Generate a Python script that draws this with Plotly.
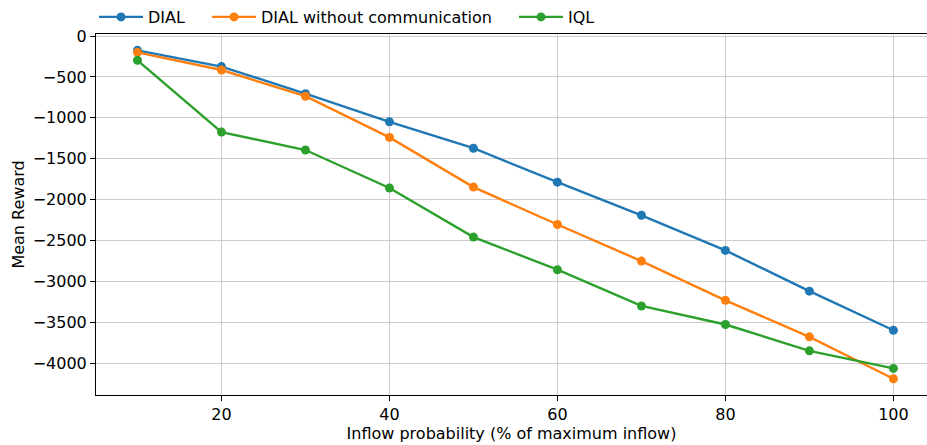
import plotly.graph_objects as go

inflow = [10, 20, 30, 40, 50, 60, 70, 80, 90, 100]
dial = [-175, -374, -705, -1049, -1372, -1787, -2192, -2622, -3120, -3598]
dial_nocomm = [-199, -415, -736, -1240, -1847, -2305, -2752, -3232, -3679, -4191]
iql = [-297, -1175, -1394, -1858, -2459, -2858, -3301, -3528, -3850, -4065]

series = [
    ("DIAL", dial, "#1f77b4", "legend"),
    ("DIAL without communication", dial_nocomm, "#ff7f0e", "legend2"),
    ("IQL", iql, "#2ca02c", "legend3"),
]

fig = go.Figure()
for name, vals, color, lg in series:
    fig.add_trace(go.Scatter(
        x=inflow, y=vals, name=name, mode="lines+markers",
        line=dict(color=color, width=2.4),
        marker=dict(color=color, size=9),
        legend=lg,
    ))

axis_common = dict(
    showline=True, linecolor="black", linewidth=1,
    showgrid=True, gridcolor="#cccccc", gridwidth=1,
    ticks="outside", ticklen=5, tickcolor="black",
    zeroline=False, automargin=False,
    tickfont=dict(size=16, color="black"),
)

leg = dict(orientation="h", xanchor="left", y=1.0, yanchor="bottom",
           font=dict(size=16), bgcolor="rgba(0,0,0,0)", itemwidth=44)

fig.update_layout(
    width=927, height=445,
    margin=dict(l=96, r=0, t=33, b=50),
    paper_bgcolor="white", plot_bgcolor="white",
    font=dict(family="DejaVu Sans", size=16, color="black"),
    showlegend=True,
    legend=dict(x=-0.0024, **leg),
    legend2=dict(x=0.1336, **leg),
    legend3=dict(x=0.503, **leg),
    xaxis=dict(range=[5.06, 104.0], tickvals=[20, 40, 60, 80, 100], mirror=True,
               title=dict(text="Inflow probability (% of maximum inflow)", font=dict(size=16), standoff=4),
               **axis_common),
    yaxis=dict(range=[-4390, 25], tickvals=[0, -500, -1000, -1500, -2000, -2500, -3000, -3500, -4000],
               mirror=False,
               title=dict(text="Mean Reward", font=dict(size=16), standoff=4),
               **axis_common),
)

fig.write_html(
    "out.html",
    config={"displayModeBar": False},
    post_script="document.body.style.margin='0';document.body.style.overflow='hidden';",
)
